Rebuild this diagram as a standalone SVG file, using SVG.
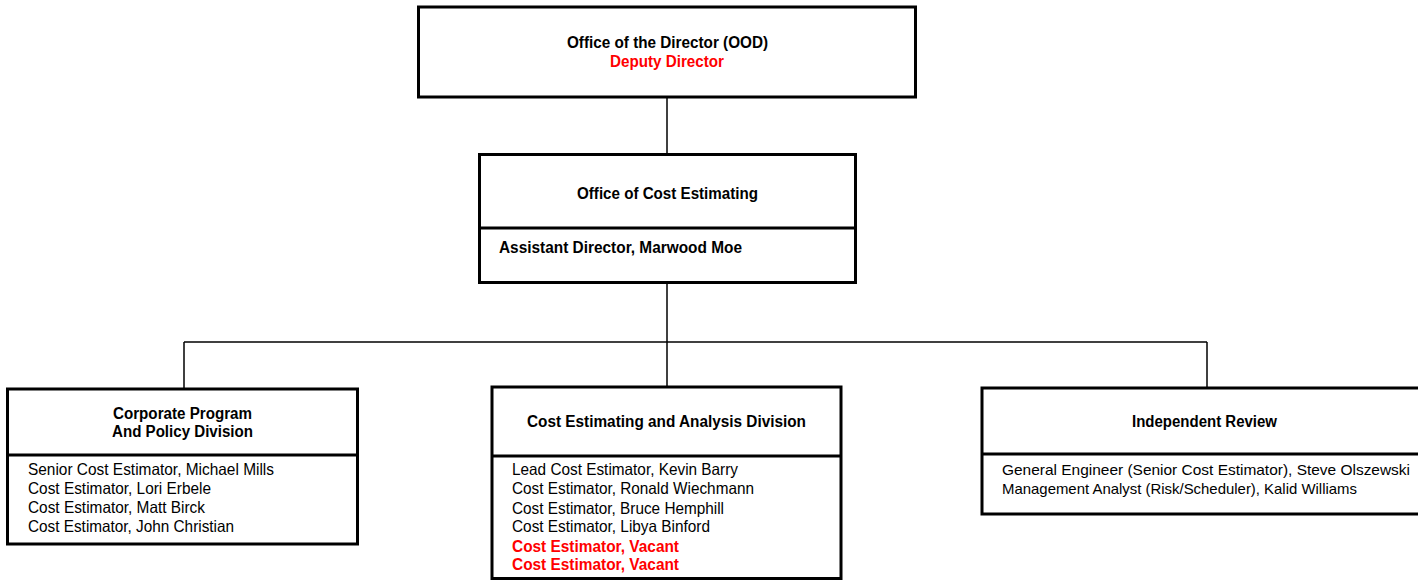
<svg xmlns="http://www.w3.org/2000/svg" width="1418" height="580" viewBox="0 0 1418 580">
<style>
  .box { fill: #ffffff; stroke: #000000; stroke-width: 3; }
  .div { stroke: #000000; stroke-width: 3; fill: none; }
  .conn { stroke: #000000; stroke-width: 1.5; fill: none; }
  .t { font-family: "Liberation Sans", Arial, sans-serif; font-size: 16.5px; fill: #000000; }
  .b { font-family: "Liberation Sans", Arial, sans-serif; font-size: 16px; font-weight: bold; fill: #000000; }
  .red { fill: #ff0000; }
</style>
<rect width="1418" height="580" fill="#ffffff"/>
<g id="connectors">
  <line class="conn" x1="667" y1="97" x2="667" y2="154" stroke="#444444"/>
  <line class="conn" x1="667" y1="282" x2="667" y2="387"/>
  <line class="conn" x1="184" y1="342" x2="1207" y2="342"/>
  <line class="conn" x1="184" y1="342" x2="184" y2="389"/>
  <line class="conn" x1="1207" y1="342" x2="1207" y2="388"/>
</g>
<g id="ood">
  <rect class="box" x="418.5" y="7" width="497" height="90"/>
  <text class="b" x="567" y="48" textLength="201" lengthAdjust="spacingAndGlyphs">Office of the Director (OOD)</text>
  <text class="b red" x="610" y="66.5" textLength="114" lengthAdjust="spacingAndGlyphs">Deputy Director</text>
</g>
<g id="oce">
  <rect class="box" x="479.5" y="154.5" width="376" height="128"/>
  <line class="div" x1="479.5" y1="228" x2="855.5" y2="228"/>
  <text class="b" x="577" y="199" textLength="181" lengthAdjust="spacingAndGlyphs">Office of Cost Estimating</text>
  <text class="b" x="499" y="253" textLength="243" lengthAdjust="spacingAndGlyphs">Assistant Director, Marwood Moe</text>
</g>
<g id="cppd">
  <rect class="box" x="7.5" y="389" width="350" height="155"/>
  <line class="div" x1="7.5" y1="455" x2="357.5" y2="455"/>
  <text class="b" x="113" y="419" textLength="139" lengthAdjust="spacingAndGlyphs">Corporate Program</text>
  <text class="b" x="112" y="437" textLength="141" lengthAdjust="spacingAndGlyphs">And Policy Division</text>
  <text class="t" x="28" y="475" textLength="246" lengthAdjust="spacingAndGlyphs">Senior Cost Estimator, Michael Mills</text>
  <text class="t" x="28" y="494" textLength="183" lengthAdjust="spacingAndGlyphs">Cost Estimator, Lori Erbele</text>
  <text class="t" x="28" y="513" textLength="177" lengthAdjust="spacingAndGlyphs">Cost Estimator, Matt Birck</text>
  <text class="t" x="28" y="532" textLength="206" lengthAdjust="spacingAndGlyphs">Cost Estimator, John Christian</text>
</g>
<g id="cead">
  <rect class="box" x="492" y="387" width="349" height="191.5"/>
  <line class="div" x1="492" y1="456" x2="841" y2="456"/>
  <text class="b" x="527" y="427" textLength="279" lengthAdjust="spacingAndGlyphs">Cost Estimating and Analysis Division</text>
  <text class="t" x="512" y="475" textLength="226" lengthAdjust="spacingAndGlyphs">Lead Cost Estimator, Kevin Barry</text>
  <text class="t" x="512" y="494" textLength="242" lengthAdjust="spacingAndGlyphs">Cost Estimator, Ronald Wiechmann</text>
  <text class="t" x="512" y="514" textLength="212" lengthAdjust="spacingAndGlyphs">Cost Estimator, Bruce Hemphill</text>
  <text class="t" x="512" y="532" textLength="198" lengthAdjust="spacingAndGlyphs">Cost Estimator, Libya Binford</text>
  <text class="b red" x="512" y="552" textLength="167" lengthAdjust="spacingAndGlyphs">Cost Estimator, Vacant</text>
  <text class="b red" x="512" y="570" textLength="167" lengthAdjust="spacingAndGlyphs">Cost Estimator, Vacant</text>
</g>
<g id="ir">
  <rect class="box" x="982" y="388" width="440" height="126"/>
  <line class="div" x1="982" y1="454" x2="1422" y2="454"/>
  <text class="b" x="1132" y="427" textLength="145" lengthAdjust="spacingAndGlyphs">Independent Review</text>
  <text class="t" x="1002" y="475" style="font-size:15px" textLength="408" lengthAdjust="spacingAndGlyphs">General Engineer (Senior Cost Estimator), Steve Olszewski</text>
  <text class="t" x="1002" y="494" style="font-size:15px" textLength="355" lengthAdjust="spacingAndGlyphs">Management Analyst (Risk/Scheduler), Kalid Williams</text>
</g>
</svg>
